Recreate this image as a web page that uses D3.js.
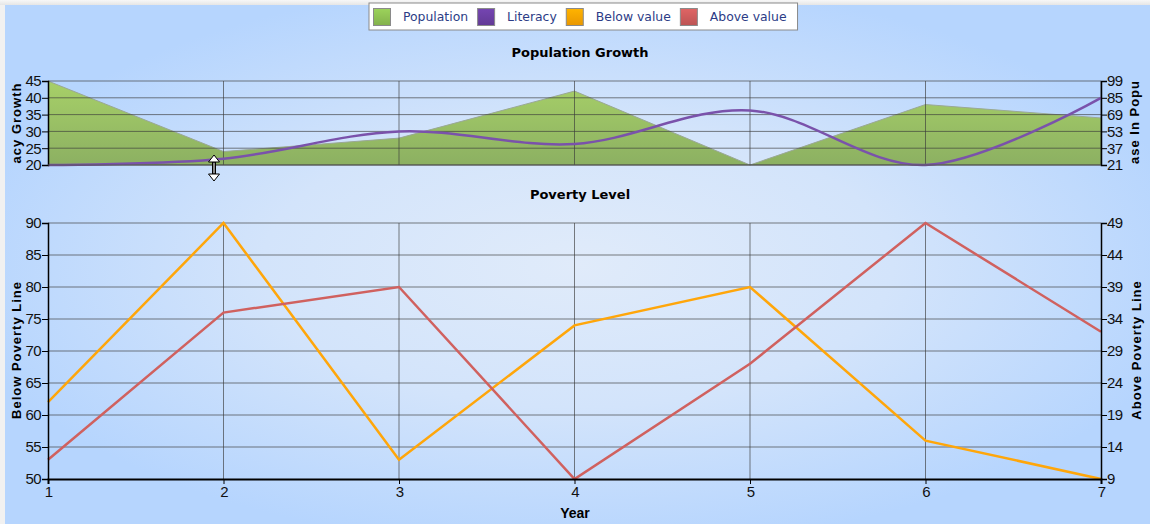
<!DOCTYPE html>
<html>
<head>
<meta charset="utf-8">
<script src="https://cdn.jsdelivr.net/npm/d3@7"></script>
<style>
html,body{margin:0;padding:0;background:#f2f2f2;}
svg{display:block;}
</style>
</head>
<body>
<svg id="chart" width="1150" height="524"></svg>
<script>
// ---- data ----
const years = [1, 2, 3, 4, 5, 6, 7];
const population = [45, 24, 28, 42, 20, 38, 34];
const literacy = [21, 27, 53, 41, 73, 21, 85];
const belowValue = [62, 90, 53, 74, 80, 56, 50];
const aboveValue = [12, 35, 39, 9, 27, 49, 32];
const topLeftTicks = [20, 25, 30, 35, 40, 45];
const topRightTicks = [21, 37, 53, 69, 85, 101];
const topRightTickLabels = ["21", "37", "53", "69", "85", "99"];
const bottomLeftTicks = [50, 55, 60, 65, 70, 75, 80, 85, 90];
const bottomRightTicks = [9, 14, 19, 24, 29, 34, 39, 44, 49];
const legendItems = ["Population", "Literacy", "Below value", "Above value"];
const legendColors = ["#8fc153", "#6b3fa3", "#ffa500", "#cd5c5c"];

// ---- layout ----
const W = 1150, H = 524;
const plotL = 48, plotR = 1101;
const topT = 81, topB = 165;
const botT = 223, botB = 479;
const tickFont = '"Liberation Sans",Arial,sans-serif';
const boldFont = '"Liberation Sans",Arial,sans-serif';
const titleFont = '"DejaVu Sans",Verdana,sans-serif';

const svg = d3.select("#chart");
const defs = svg.append("defs");

const bg = defs.append("radialGradient").attr("id", "bg")
  .attr("cx", "0.5").attr("cy", "0.5").attr("r", "0.55");
bg.append("stop").attr("offset", "0").attr("stop-color", "#e0ebfa");
bg.append("stop").attr("offset", "0.5").attr("stop-color", "#d3e4fb");
bg.append("stop").attr("offset", "1").attr("stop-color", "#b6d5fe");

const topStrip = defs.append("linearGradient").attr("id", "topStrip").attr("x1", 0).attr("y1", 0).attr("x2", 0).attr("y2", 1);
topStrip.append("stop").attr("offset", 0).attr("stop-color", "#f7f7f7");
topStrip.append("stop").attr("offset", 1).attr("stop-color", "#e6e6e6");

const greenGrad = defs.append("linearGradient").attr("id", "greenGrad")
  .attr("gradientUnits", "userSpaceOnUse").attr("x1", 0).attr("y1", topT).attr("x2", 0).attr("y2", topB);
greenGrad.append("stop").attr("offset", 0).attr("stop-color", "#a7d068");
greenGrad.append("stop").attr("offset", 1).attr("stop-color", "#8cb062");

legendColors.forEach((c, i) => {
  const g = defs.append("linearGradient").attr("id", "sw" + i).attr("x1", 0).attr("y1", 0).attr("x2", 0).attr("y2", 1);
  g.append("stop").attr("offset", 0).attr("stop-color", d3.color(c).brighter(0.25));
  g.append("stop").attr("offset", 1).attr("stop-color", d3.color(c).darker(0.25));
});

// background
svg.append("rect").attr("x", 0).attr("y", 0).attr("width", W).attr("height", H).attr("fill", "#f1f1f1");
svg.append("rect").attr("x", 0).attr("y", 0).attr("width", W).attr("height", 5).attr("fill", "url(#topStrip)");
svg.append("rect").attr("x", 5).attr("y", 5).attr("width", W - 5).attr("height", H - 5).attr("fill", "url(#bg)");

// ---- scales ----
const x = d3.scaleLinear().domain([1, 7]).range([plotL, plotR]);
const yTL = d3.scaleLinear().domain([20, 45]).range([topB, topT]);
const yTR = d3.scaleLinear().domain([21, 101]).range([topB, topT]);
const yBL = d3.scaleLinear().domain([50, 90]).range([botB, botT]);
const yBR = d3.scaleLinear().domain([9, 49]).range([botB, botT]);

const gridColor = "#3a3a3a";

// ---- top chart ----
const topG = svg.append("g");
const area = d3.area().x((d, i) => x(years[i])).y0(topB).y1(d => yTL(d));
topG.append("path").datum(population).attr("d", area).attr("fill", "url(#greenGrad)");
topG.append("path").datum(population).attr("d", d3.line().x((d, i) => x(years[i])).y(d => yTL(d)))
  .attr("fill", "none").attr("stroke", "#9aa896").attr("stroke-width", 1);

// grid
topG.append("g").selectAll("line").data(topLeftTicks).join("line")
  .attr("x1", plotL).attr("x2", plotR).attr("y1", d => yTL(d)).attr("y2", d => yTL(d))
  .attr("stroke", gridColor).attr("stroke-opacity", 0.65).attr("stroke-width", 1);
topG.append("g").selectAll("line").data(years.slice(1)).join("line")
  .attr("x1", d => x(d)).attr("x2", d => x(d)).attr("y1", topT).attr("y2", topB)
  .attr("stroke", gridColor).attr("stroke-opacity", 0.65).attr("stroke-width", 1);

// literacy line
topG.append("path").datum(literacy)
  .attr("d", d3.line().x((d, i) => x(years[i])).y(d => yTR(d)).curve(d3.curveCardinal.tension(0)))
  .attr("fill", "none").attr("stroke", "#7a52ab").attr("stroke-width", 2.5);

// axes
const axTL = topG.append("g").attr("transform", `translate(${plotL},0)`)
  .call(d3.axisLeft(yTL).tickValues(topLeftTicks).tickSize(6).tickPadding(1));
const axTR = topG.append("g").attr("transform", `translate(${plotR},0)`)
  .call(d3.axisRight(yTR).tickValues(topRightTicks).tickFormat((d, i) => topRightTickLabels[i]).tickSize(6).tickPadding(0));

// ---- bottom chart ----
const botG = svg.append("g");
botG.append("g").selectAll("line").data(bottomLeftTicks.slice(1)).join("line")
  .attr("x1", plotL).attr("x2", plotR).attr("y1", d => yBL(d)).attr("y2", d => yBL(d))
  .attr("stroke", gridColor).attr("stroke-opacity", 0.65).attr("stroke-width", 1);
botG.append("g").selectAll("line").data(years.slice(1, 6)).join("line")
  .attr("x1", d => x(d)).attr("x2", d => x(d)).attr("y1", botT).attr("y2", botB)
  .attr("stroke", gridColor).attr("stroke-opacity", 0.65).attr("stroke-width", 1);

botG.append("path").datum(belowValue)
  .attr("d", d3.line().x((d, i) => x(years[i])).y(d => yBL(d)))
  .attr("fill", "none").attr("stroke", "#ffa60a").attr("stroke-width", 2.5).attr("stroke-linejoin", "miter");
botG.append("path").datum(aboveValue)
  .attr("d", d3.line().x((d, i) => x(years[i])).y(d => yBR(d)))
  .attr("fill", "none").attr("stroke", "#d0615f").attr("stroke-width", 2.5).attr("stroke-linejoin", "miter");

const axBL = botG.append("g").attr("transform", `translate(${plotL},0)`)
  .call(d3.axisLeft(yBL).tickValues(bottomLeftTicks).tickSize(6).tickPadding(1));
const axBR = botG.append("g").attr("transform", `translate(${plotR},0)`)
  .call(d3.axisRight(yBR).tickValues(bottomRightTicks).tickSize(6).tickPadding(0));
const axX = botG.append("g").attr("transform", `translate(0,${botB})`)
  .call(d3.axisBottom(x).tickValues(years).tickFormat(d3.format("d")).tickSize(5).tickPadding(2));

[axTL, axTR, axBL, axBR, axX].forEach(a => {
  a.select(".domain").attr("stroke", "#000").attr("stroke-width", 1.5);
  a.selectAll(".tick line").attr("stroke", "#000");
  a.selectAll(".tick text").attr("fill", "#111").style("font-family", tickFont)
    .style("font-size", "15px").style("letter-spacing", "-0.6px");
});
axX.select(".domain").attr("stroke-width", 2);

// top chart bottom baseline
topG.append("line").attr("x1", plotL).attr("x2", plotR).attr("y1", topB).attr("y2", topB)
  .attr("stroke", "#555").attr("stroke-width", 1);

// ---- titles ----
svg.append("text").attr("x", 580).attr("y", 57).attr("text-anchor", "middle")
  .style("font-family", titleFont).style("font-weight", "bold").style("font-size", "13px").attr("fill", "#000")
  .text("Population Growth");
svg.append("text").attr("x", 580).attr("y", 199).attr("text-anchor", "middle")
  .style("font-family", titleFont).style("font-weight", "bold").style("font-size", "13px").attr("fill", "#000")
  .text("Poverty Level");
svg.append("text").attr("x", 575).attr("y", 518).attr("text-anchor", "middle")
  .style("font-family", boldFont).style("font-weight", "bold").style("font-size", "14px").attr("fill", "#000")
  .text("Year");

function vLabel(cx, cy, txt) {
  svg.append("text").attr("transform", `translate(${cx},${cy}) rotate(-90)`).attr("text-anchor", "middle")
    .attr("dy", "0.35em")
    .style("font-family", boldFont).style("font-weight", "bold").style("font-size", "13px")
    .style("letter-spacing", "1px").attr("fill", "#000")
    .text(txt);
}
vLabel(16, 123, "acy Growth");
vLabel(1134, 122, "ase In Popu");
vLabel(16, 350, "Below Poverty Line");
vLabel(1136, 350, "Above Poverty Line");

// ---- legend ----
const lg = svg.append("g");
const lgBox = lg.append("rect").attr("x", 369).attr("y", 3).attr("height", 27)
  .attr("fill", "#fff").attr("stroke", "#8a8a8a").attr("stroke-width", 1);
let lx = 373;
legendItems.forEach((name, i) => {
  lg.append("rect").attr("x", lx + 0.5).attr("y", 8.5).attr("width", 17).attr("height", 17)
    .attr("fill", `url(#sw${i})`).attr("stroke", "#8a8a8a").attr("stroke-width", 1);
  const t = lg.append("text").attr("x", lx + 30).attr("y", 21)
    .style("font-family", titleFont).style("font-size", "12.4px").attr("fill", "#2c3c86").text(name);
  lx += 30 + t.node().getComputedTextLength() + 9;
});
lgBox.attr("width", lx - 369 + 2);

// ---- mouse cursor (vertical resize) ----
const cx0 = 214, cy0 = 168;
const cur = svg.append("g").attr("transform", `translate(${cx0},${cy0})`);
cur.append("rect").attr("x", -1.5).attr("y", -6).attr("width", 3).attr("height", 12)
  .attr("fill", "#888").attr("stroke", "#000").attr("stroke-width", 1);
cur.append("path").attr("d", "M0,-13 L5.5,-6 L-5.5,-6 Z").attr("fill", "#fff").attr("stroke", "#000").attr("stroke-width", 1);
cur.append("path").attr("d", "M0,13 L5.5,6 L-5.5,6 Z").attr("fill", "#fff").attr("stroke", "#000").attr("stroke-width", 1);
</script>
</body>
</html>
